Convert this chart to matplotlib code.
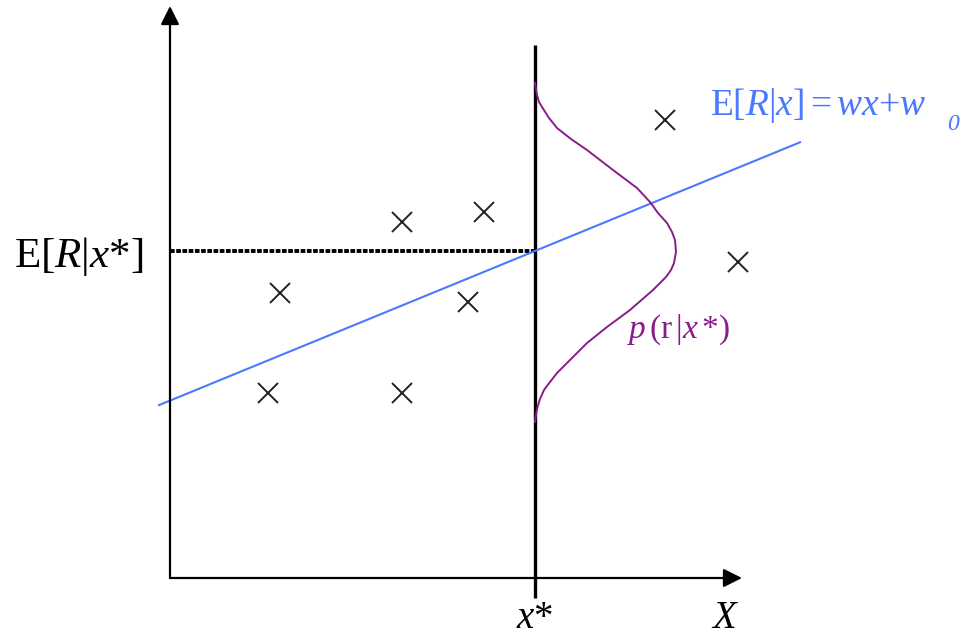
import numpy as np
import matplotlib
matplotlib.use('Agg')
import matplotlib.pyplot as plt

plt.rcParams['mathtext.fontset'] = 'custom'
plt.rcParams['mathtext.rm'] = 'Liberation Serif'
plt.rcParams['mathtext.it'] = 'Liberation Serif:italic'
plt.rcParams['font.family'] = 'Liberation Serif'

# ── Data (units: origin at the axes corner) ────────────────────────
pts_x = [9.8, 23.2, 11.0, 29.8, 23.2, 31.4, 49.5, 56.8]
pts_y = [18.5, 18.5, 28.5, 27.6, 35.6, 36.6, 45.8, 31.6]

x_star = 36.5          # query point
w, w0 = 0.41, 17.74    # regression line E[R|x] = w x + w0
line_x = [-1.1, 63.0]

# p(r|x*): r values and density height
dens_r = [49.5, 48.9, 48.3, 47.6, 47.1, 46.0, 45.0, 43.9, 42.8, 40.8, 39.0, 37.6,
          36.5, 35.5, 34.6, 33.8, 32.6, 31.5, 30.8, 30.1, 28.8, 26.8, 25.1, 23.5,
          21.8, 20.5, 19.6, 18.8, 17.9, 17.1, 16.3, 15.6]
dens_p = [0.0, 0.1, 0.2, 0.4, 0.7, 1.4, 2.2, 3.6, 5.2, 7.8, 10.2, 11.5,
          12.3, 13.2, 13.7, 14.0, 14.1, 13.9, 13.6, 13.1, 11.8, 9.5, 7.2, 5.2,
          3.5, 2.2, 1.5, 0.9, 0.5, 0.25, 0.1, 0.0]

blue = '#4a78ff'
purple = '#8a1c8a'

fig = plt.figure(figsize=(9.74, 6.36), dpi=100)
ax = fig.add_axes([0, 0, 1, 1])
ax.set_xlim(-17, 80.4)
ax.set_ylim(-5.8, 57.8)
ax.axis('off')

# ── Axes arrows ────────────────────────────────────────────────────
ax.annotate('', xy=(0, 57.2), xytext=(0, 0),
            arrowprops=dict(arrowstyle='-|>', mutation_scale=28, lw=1.6,
                            color='black', shrinkA=0, shrinkB=0))
ax.annotate('', xy=(57.2, 0), xytext=(0, 0),
            arrowprops=dict(arrowstyle='-|>', mutation_scale=28, lw=1.6,
                            color='black', shrinkA=0, shrinkB=0))

# ── x* vertical and E[R|x*] horizontal ─────────────────────────────
e_star = w * x_star + w0
ax.plot([x_star, x_star], [-2.0, 53.3], color='black', lw=2.4, solid_capstyle='butt')
ax.plot([0, x_star], [e_star, e_star], color='black', lw=2.8,
        linestyle=(0, (1.2, 0.4)), solid_capstyle='butt')

# ── Regression line ────────────────────────────────────────────────
lx = np.array(line_x)
ax.plot(lx, w * lx + w0, color=blue, lw=1.5)

# ── Data points ────────────────────────────────────────────────────
ax.plot(pts_x, pts_y, 'x', color='#222222', markersize=15, markeredgewidth=1.4)

# ── Conditional density ────────────────────────────────────────────
ax.plot(x_star + np.array(dens_p), dens_r, color=purple, lw=1.4)

# ── Labels ─────────────────────────────────────────────────────────
ax.text(-2.7, e_star - 0.6, r'$\mathrm{E}[R|x{*}]$', fontsize=31,
        ha='right', va='center')
ax.text(54.0, 46.3, r'$\mathrm{E}[R|x]{=}wx{+}w$', fontsize=27, color=blue,
        ha='left', va='baseline')
ax.text(77.7, 44.8, '0', fontsize=17, style='italic', color=blue,
        ha='left', va='baseline')
ax.text(45.7, 24.0, r'$p\,(\mathrm{r}\,|x\,{*})$', fontsize=24, color=purple,
        ha='left', va='baseline')
ax.text(x_star, -5.0, r'$x{*}$', fontsize=28, ha='center', va='baseline')
ax.text(55.5, -5.0, r'$X$', fontsize=28, ha='center', va='baseline')

fig.savefig('out.png', dpi=100)
